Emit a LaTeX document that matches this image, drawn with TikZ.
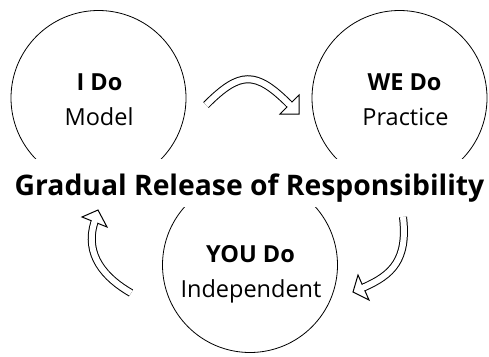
\documentclass[tikz,border=0pt]{standalone}
\usepackage{fontspec}
\setmainfont{Open Sans}
\begin{document}
\begin{tikzpicture}[x=1pt,y=-1pt,
  bigcirc/.style={circle,draw=black,line width=0.8pt,minimum size=175pt,inner sep=0pt},
  boldtxt/.style={anchor=base,font=\fontsize{23.5}{26}\selectfont\bfseries,inner sep=0pt},
  regtxt/.style={anchor=base,font=\fontsize{23.5}{26}\selectfont,inner sep=0pt},
  titletxt/.style={anchor=base,font=\fontsize{28.3}{31}\selectfont\bfseries,inner sep=0pt},
  shaft/.style={draw=black,line width=1pt,double=white,double distance=6pt},
  head/.style={draw=black,fill=white,line width=1pt,line join=miter},
  patch/.style={draw=white,line width=5.8pt}
]
\useasboundingbox (0,0) rectangle (489,356);
% circles
\begin{scope}
  \clip (0,0) rectangle (489,158);
  \node[bigcirc] (c1) at (98.5,98) {};
  \node[bigcirc] (c2) at (399.5,98) {};
\end{scope}
\begin{scope}
  \clip (0,207) rectangle (489,356);
  \node[bigcirc] (c3) at (250,265) {};
\end{scope}
% texts
\node[boldtxt] (t1a) at (99.5,90.5) {I Do};
\node[regtxt]  (t1b) at (99,125) {Model};
\node[boldtxt] (t2a) at (404.5,90.5) {WE Do};
\node[regtxt]  (t2b) at (405.5,125) {Practice};
\node[boldtxt] (t3a) at (250.5,262) {YOU Do};
\node[regtxt]  (t3b) at (251,297) {Independent};
\node[titletxt] (title) at (249.5,195) {Gradual Release of Responsibility};
% arrow 1 (top)
\coordinate (a1s) at (206,105);
\coordinate (a1b) at (289.5,104.5);
\coordinate (a1t) at (299,114);
\coordinate (a1l) at (299,95);
\coordinate (a1r) at (280,114);
\draw[shaft] (a1s) .. controls (240,71) and (255.5,70.5) .. (a1b);
\draw[head] (a1l) -- (a1t) -- (a1r) -- cycle;
\draw[patch] (288,103) -- (291,106);
% arrow 2 (right)
\coordinate (a2s) at (403,217);
\coordinate (a2b) at (363.5,287.5);
\coordinate (a2t) at (353,292);
\coordinate (a2l) at (358,275);
\coordinate (a2r) at (369,300);
\draw[shaft] (a2s) .. controls (408,260) and (392,275) .. (a2b);
\draw[head] (a2l) -- (a2t) -- (a2r) -- cycle;
\draw[patch] (365.3,286.7) -- (361.7,288.3);
% arrow 3 (left)
\coordinate (a3s) at (131,293);
\coordinate (a3b) at (94.5,222);
\coordinate (a3t) at (98,210);
\coordinate (a3l) at (82,217);
\coordinate (a3r) at (107,227);
\draw[shaft] (a3s) .. controls (105,278) and (84,255) .. (a3b);
\draw[head] (a3l) -- (a3t) -- (a3r) -- cycle;
\draw[patch] (94,224) -- (95,220);
\end{tikzpicture}
\end{document}
